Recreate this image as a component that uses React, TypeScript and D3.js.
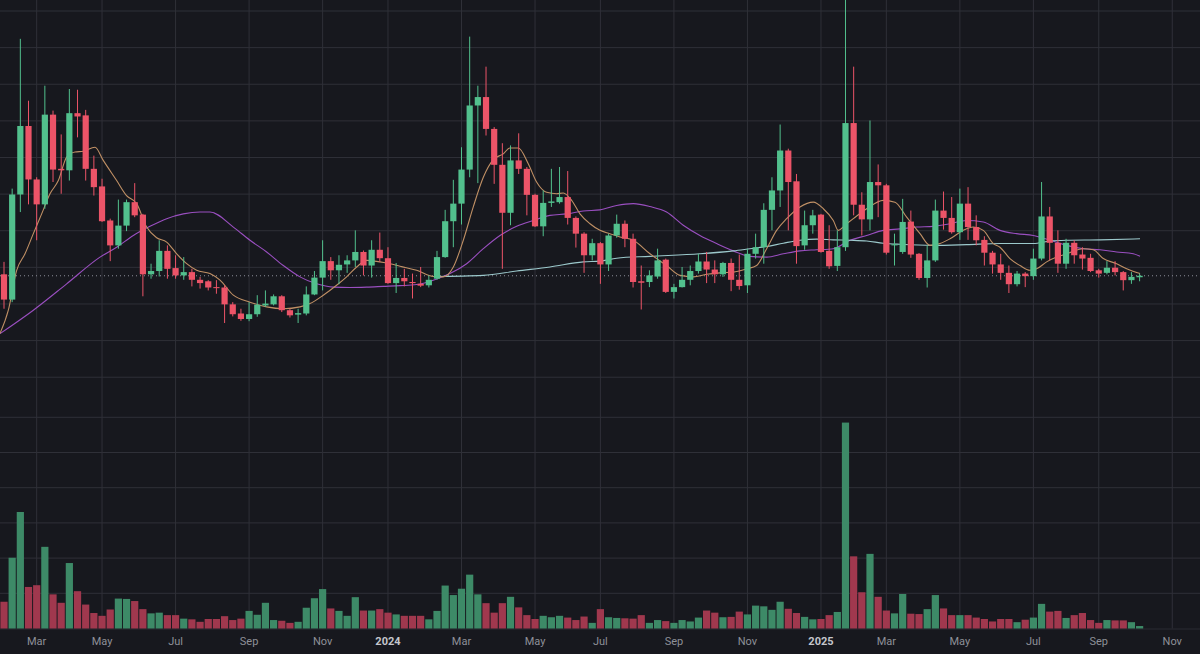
import React from "react";
import * as d3 from "d3";

const START_WEEK = "2023-02-06";

const opens = [18.1, 11.2, 39.9, 58.6, 44.0, 37.2, 61.7, 46.9, 46.5, 62.1,
  61.5, 46.9, 42.1, 32.8, 26.0, 31.4, 37.8, 34.4, 18.1, 19.0,
  24.5, 19.8, 17.8, 18.7, 16.6, 16.2, 14.6, 14.5, 9.9, 7.4,
  5.9, 7.2, 9.6, 9.9, 12.1, 8.3, 7.1, 7.4, 12.6, 17.2,
  21.7, 19.2, 20.8, 21.9, 24.2, 20.5, 24.8, 22.5, 15.7, 17.1,
  16.0, 15.5, 15.1, 16.9, 22.8, 32.6, 37.4, 46.7, 64.2, 66.5,
  57.8, 48.0, 34.9, 49.2, 46.9, 39.8, 31.2, 37.6, 37.8, 39.2,
  33.5, 29.2, 23.3, 26.6, 20.8, 28.7, 31.9, 27.8, 16.2, 16.0,
  17.5, 22.1, 13.3, 14.6, 16.6, 19.0, 21.6, 19.4, 18.1, 21.2,
  16.6, 15.1, 23.7, 25.5, 35.7, 41.0, 51.9, 43.5, 26.0, 31.5,
  34.4, 24.5, 20.4, 25.5, 59.4, 37.1, 33.1, 43.3, 42.4, 26.0,
  24.2, 32.5, 23.7, 17.1, 21.9, 35.5, 33.5, 29.6, 37.4, 31.0,
  27.5, 24.0, 20.8, 18.5, 15.4, 18.3, 17.6, 22.4, 33.9, 26.7,
  21.0, 26.7, 23.5, 22.6, 19.2, 18.5, 19.9, 18.7, 16.5, 17.3];

const highs = [21.5, 41.5, 82.4, 65.5, 44.6, 69.6, 62.8, 56.3, 68.7, 68.5,
  63.0, 50.5, 44.2, 33.3, 38.5, 38.5, 43.0, 34.6, 21.0, 27.4,
  26.0, 23.3, 22.8, 19.6, 17.4, 16.5, 16.5, 15.1, 10.5, 8.7,
  10.5, 12.4, 13.7, 12.6, 12.4, 8.7, 8.7, 14.8, 19.0, 27.4,
  22.8, 23.3, 23.3, 30.1, 24.6, 27.4, 29.5, 25.5, 21.2, 19.6,
  18.3, 20.1, 17.8, 24.5, 35.7, 43.9, 52.8, 83.0, 69.6, 74.8,
  58.3, 53.9, 53.3, 56.6, 47.4, 40.1, 41.0, 46.9, 47.4, 46.3,
  33.9, 29.6, 27.8, 26.9, 29.2, 34.4, 32.8, 29.2, 20.5, 19.2,
  25.1, 22.4, 15.5, 20.1, 20.5, 23.7, 24.2, 21.9, 21.5, 22.4,
  23.5, 25.1, 29.2, 37.5, 44.6, 59.0, 52.4, 45.5, 35.5, 35.7,
  34.6, 31.5, 30.1, 93.7, 74.8, 40.5, 60.1, 48.1, 42.8, 29.2,
  38.7, 35.5, 23.9, 26.0, 38.5, 40.7, 39.2, 41.5, 41.9, 34.2,
  28.5, 24.5, 23.7, 20.5, 19.0, 18.7, 25.1, 43.3, 36.5, 30.1,
  27.8, 27.4, 25.5, 23.7, 19.6, 21.7, 21.7, 19.0, 18.7, 18.3];

const lows = [8.7, 10.5, 35.1, 37.2, 27.4, 36.0, 43.3, 40.1, 43.7, 55.5,
  43.7, 39.6, 32.4, 21.7, 25.1, 29.9, 33.7, 12.1, 16.9, 17.5,
  16.9, 16.9, 16.6, 14.8, 14.2, 13.7, 12.8, 4.8, 6.6, 5.4,
  5.3, 6.5, 9.2, 9.6, 7.8, 6.3, 4.8, 6.9, 12.4, 13.7,
  16.6, 15.4, 18.5, 20.1, 17.8, 17.2, 21.5, 15.5, 13.0, 14.8,
  11.5, 14.6, 14.5, 16.6, 22.6, 25.5, 31.7, 44.6, 43.0, 56.0,
  42.8, 19.6, 31.5, 45.5, 34.2, 31.0, 28.5, 36.5, 37.4, 31.7,
  25.4, 18.5, 21.9, 15.5, 19.0, 28.1, 25.5, 14.5, 8.5, 14.6,
  16.9, 13.0, 11.5, 14.5, 15.1, 18.3, 15.7, 15.7, 17.4, 13.5,
  13.9, 13.0, 22.4, 21.0, 30.1, 36.5, 30.1, 21.0, 24.8, 29.2,
  24.0, 19.6, 19.0, 24.5, 34.2, 28.7, 30.1, 33.7, 23.5, 20.5,
  23.7, 22.6, 16.6, 14.5, 21.5, 30.3, 29.2, 27.5, 27.5, 26.0,
  20.5, 18.3, 16.6, 13.0, 14.8, 14.6, 16.6, 21.9, 21.9, 18.5,
  19.6, 21.0, 19.4, 18.7, 17.2, 18.1, 17.8, 13.7, 15.5, 16.2];

const closes = [11.2, 39.9, 58.6, 44.0, 37.2, 61.7, 46.7, 46.5, 62.1, 61.2,
  46.9, 41.9, 32.6, 26.0, 31.4, 37.8, 34.2, 18.1, 19.0, 24.5,
  19.6, 17.8, 18.7, 16.6, 15.7, 14.5, 14.4, 9.9, 7.2, 5.9,
  7.2, 9.8, 10.1, 12.1, 8.3, 6.9, 7.5, 12.6, 17.2, 21.7,
  19.2, 20.7, 21.9, 24.2, 20.5, 24.8, 22.5, 15.7, 17.1, 16.2,
  15.7, 15.0, 16.6, 22.8, 32.6, 37.4, 46.7, 64.2, 66.5, 57.8,
  48.0, 34.9, 49.2, 46.9, 39.8, 31.2, 37.6, 38.0, 39.2, 33.5,
  29.2, 23.3, 26.6, 20.8, 28.7, 31.9, 27.8, 16.0, 15.8, 17.8,
  21.9, 13.3, 14.6, 16.6, 19.0, 21.6, 19.4, 18.1, 21.2, 16.6,
  14.9, 23.7, 25.5, 35.7, 41.0, 51.9, 43.3, 25.8, 31.5, 34.2,
  24.2, 20.3, 25.5, 59.4, 37.1, 33.1, 43.3, 42.4, 24.0, 26.3,
  32.4, 23.5, 17.1, 21.9, 35.5, 33.5, 29.6, 37.4, 31.0, 27.4,
  24.0, 20.8, 18.5, 15.4, 18.3, 17.6, 22.4, 33.9, 26.7, 21.0,
  26.7, 23.3, 22.4, 19.0, 18.3, 19.9, 18.7, 16.5, 17.4, 17.7];

const volumes = [7.6, 20.1, 33.1, 11.8, 12.3, 23.2, 9.7, 7.3, 18.6, 10.6,
  6.8, 4.4, 3.6, 5.4, 8.5, 8.4, 7.8, 5.5, 4.3, 4.5,
  3.8, 3.8, 2.8, 2.6, 1.9, 2.7, 2.7, 3.5, 2.4, 2.8,
  5.0, 3.9, 7.3, 2.4, 2.2, 1.6, 1.9, 5.9, 8.6, 11.2,
  5.7, 5.0, 3.6, 8.9, 5.1, 5.1, 5.5, 4.5, 4.0, 3.6,
  3.6, 3.6, 2.6, 5.0, 12.2, 9.5, 11.3, 15.3, 9.7, 7.2,
  4.5, 7.2, 9.0, 6.0, 3.8, 2.7, 3.6, 3.2, 3.6, 3.1,
  2.4, 3.4, 1.6, 5.5, 3.2, 3.0, 2.9, 2.8, 3.8, 1.6,
  2.4, 2.1, 1.6, 2.4, 2.0, 3.1, 5.1, 4.5, 3.2, 3.3,
  4.8, 4.0, 6.5, 6.3, 5.3, 7.6, 5.6, 4.4, 3.3, 2.6,
  2.7, 3.8, 4.7, 58.5, 20.5, 10.3, 21.2, 9.0, 5.1, 4.3,
  9.8, 4.2, 4.1, 5.5, 9.5, 5.7, 3.8, 3.8, 3.8, 3.1,
  2.7, 2.0, 2.7, 2.7, 1.8, 2.5, 3.1, 7.0, 4.8, 5.0,
  3.0, 3.8, 4.4, 2.4, 1.6, 2.4, 2.3, 2.3, 1.8, 0.7];

// moving-average lines: [week index, value]
const maFast: [number, number][] = [[-0.5, 1.9], [0.53, 8.3], [1.55, 19.2], [2.57, 23.7], [3.59, 29.2], [4.61, 34.6], [5.63, 40.1], [6.65, 43.7], [7.67, 50.1], [8.69, 51.5], [9.71, 51.7], [11.14, 52.8], [12.15, 49.2], [13.79, 43.7], [15.0, 39.6], [16.24, 37.4], [17.46, 31.0], [18.69, 28.1], [19.91, 26.9], [21.14, 23.7], [22.36, 21.0], [23.58, 19.2],
  [25.21, 18.3], [26.44, 16.5], [28.07, 12.4], [30.11, 10.5], [32.15, 9.2], [34.19, 8.7], [36.23, 9.2], [37.45, 10.1], [39.08, 12.4], [40.71, 15.1], [41.94, 17.4], [43.17, 20.1], [44.39, 21.9], [46.02, 21.5], [47.25, 21.0], [48.47, 20.3],
  [50.51, 19.2], [52.55, 17.5], [53.77, 17.4], [55.0, 20.1], [56.22, 27.4], [57.44, 36.5], [58.67, 44.6], [59.89, 49.4], [61.11, 51.0], [61.93, 52.6], [62.95, 52.6], [64.17, 48.3], [65.19, 43.3], [66.42, 40.5], [67.64, 40.1], [68.46, 40.3], [69.48, 38.3], [70.5, 34.6], [71.73, 31.9], [72.95, 30.1],
  [74.17, 29.2], [75.4, 28.3], [77.03, 27.4], [79.07, 23.7], [81.1, 20.5], [82.74, 17.8], [84.37, 17.4], [86.0, 18.1], [87.64, 18.5], [89.27, 18.7], [90.9, 19.6], [92.12, 20.5], [93.35, 25.1], [94.57, 30.1], [95.8, 33.3], [97.43, 36.5],
  [99.06, 37.8], [100.29, 36.0], [101.51, 32.8], [102.12, 30.1], [103.14, 31.9], [103.96, 33.3], [105.59, 36.0], [107.63, 38.3], [109.06, 37.8], [110.49, 33.7], [112.12, 29.2], [113.34, 26.0], [114.57, 26.5], [115.79, 27.8], [117.42, 30.1], [118.64, 31.0], [119.87, 30.1], [121.09, 26.5], [121.91, 25.5],
  [123.13, 22.4], [124.36, 20.5], [125.58, 19.2], [126.4, 19.6], [127.62, 21.5], [128.85, 22.8], [130.07, 23.7], [132.11, 25.1], [133.33, 24.8], [134.56, 22.4], [136.19, 21.0], [137.42, 19.6], [139.05, 18.3]];

const maMid: [number, number][] = [[-0.49, 1.9], [3.59, 8.3], [7.67, 15.5], [11.75, 22.8], [13.79, 25.5], [15.83, 28.7], [17.87, 31.2], [19.91, 33.3], [21.95, 34.6], [23.99, 35.1], [25.21, 35.1], [28.07, 31.0], [30.11, 27.4], [32.15, 24.2], [34.19, 20.5], [36.23, 17.4], [38.27, 15.5], [40.31, 14.6], [42.35, 14.5], [44.39, 14.6], [46.43, 14.8], [48.47, 15.0], [50.51, 15.3], [52.55, 16.5], [54.59, 18.3], [56.63, 21.0], [58.67, 25.1], [60.71, 28.7], [62.75, 31.2], [64.79, 32.8], [66.83, 34.2], [68.87, 34.6], [70.91, 35.4], [72.95, 35.7], [74.99, 36.9], [77.03, 37.4], [79.07, 36.6], [81.1, 35.1], [83.14, 31.5], [85.18, 28.7], [87.22, 26.5], [89.27, 24.5], [91.31, 23.0], [93.35, 22.8], [95.39, 23.7], [97.43, 24.5], [99.47, 24.8], [101.51, 25.1], [103.55, 27.4], [105.59, 28.7], [107.63, 30.1], [109.67, 30.5], [111.71, 31.0], [113.75, 31.2], [115.79, 31.9], [117.83, 32.8], [119.87, 32.4], [121.91, 30.1], [123.95, 29.2], [125.99, 28.7], [128.03, 27.4], [130.07, 26.0], [132.11, 25.1], [134.15, 24.8], [136.19, 24.2], [138.23, 23.7], [139.05, 23.0]];

const maSlow: [number, number][] = [[52.55, 17.5], [58.67, 17.8], [62.75, 19.0], [66.83, 20.1], [70.91, 21.5], [72.95, 21.7], [74.99, 22.5], [79.07, 23.0], [85.18, 23.7], [89.27, 24.5], [91.31, 25.1], [93.35, 25.7], [95.39, 26.6], [97.43, 27.4], [99.47, 27.7], [101.51, 27.5], [103.55, 27.4], [105.59, 27.2], [107.63, 26.6], [109.67, 26.3], [113.75, 26.0], [117.83, 26.2], [121.91, 26.5], [125.99, 26.5], [128.03, 27.2], [130.07, 27.4], [134.15, 27.5], [139.05, 27.8]];

const tickMonths = ["2023-03", "2023-05", "2023-07", "2023-09", "2023-11", "2024-01", "2024-03", "2024-05", "2024-07", "2024-09", "2024-11", "2025-01", "2025-03", "2025-05", "2025-07", "2025-09", "2025-11"];
const tickLabels = ["Mar", "May", "Jul", "Sep", "Nov", "2024", "Mar", "May", "Jul", "Sep", "Nov", "2025", "Mar", "May", "Jul", "Sep", "Nov"];

const priceTicks = [-10, 0, 10, 20, 30, 40, 50, 60, 70, 80, 90];
const volumeTicks = [10, 20, 30, 40, 50, 60];

const W = 1200;
const H = 654;
const BG = "#17181e";
const GRID = "#2f3038";
const UP = "#52c08d";
const DOWN = "#ec5468";
const UP_VOL = "#3d8a67";
const DOWN_VOL = "#a0384e";

export default function App() {
  const n = closes.length;
  const x = d3.scaleLinear().domain([0, n - 1]).range([4, 1139.6]);
  const y = d3.scaleLinear().domain([0, 90]).range([340.6, 11]);
  const yv = d3.scaleLinear().domain([0, 60]).range([628.5, 417.3]);

  const start = new Date(START_WEEK + "T00:00:00Z");
  const ticks = tickMonths.map((m, k) => {
    const first = new Date(m + "-01T00:00:00Z");
    const monday = d3.utcMonday.ceil(first);
    const idx = d3.utcMonday.count(start, monday);
    return { idx, label: tickLabels[k], year: /^\d{4}$/.test(tickLabels[k]) };
  });

  const bodyW = 6.2;
  const volW = 7.2;

  const line = d3
    .line<[number, number]>()
    .x((d) => x(d[0]))
    .y((d) => y(d[1]))
    .curve(d3.curveMonotoneX);

  const last = closes[n - 1];

  return (
    <div style={{ position: "fixed", left: 0, top: 0 }}>
      <svg width={W} height={H} style={{ display: "block" }}>
        <rect x={0} y={0} width={W} height={H} fill={BG} />
        {/* grid */}
        {priceTicks.map((t) => (
          <line key={"p" + t} x1={0} x2={W} y1={y(t)} y2={y(t)} stroke={GRID} strokeWidth={1} />
        ))}
        {volumeTicks.map((t) => (
          <line key={"v" + t} x1={0} x2={W} y1={yv(t)} y2={yv(t)} stroke={GRID} strokeWidth={1} />
        ))}
        {ticks.map((t) => (
          <line key={"g" + t.idx} x1={x(t.idx)} x2={x(t.idx)} y1={0} y2={yv(0)} stroke={GRID} strokeWidth={1} />
        ))}
        <line x1={0} x2={W} y1={yv(0) + 0.5} y2={yv(0) + 0.5} stroke="#2a2b32" strokeWidth={1} />

        {/* volume */}
        {volumes.map((v, i) => {
          const up = closes[i] >= opens[i];
          return (
            <rect
              key={"vol" + i}
              x={x(i) - volW / 2}
              y={yv(v)}
              width={volW}
              height={yv(0) - yv(v)}
              fill={up ? UP_VOL : DOWN_VOL}
            />
          );
        })}

        {/* current price dotted line */}
        <line x1={0} x2={W} y1={y(last)} y2={y(last)} stroke="#8d9099" strokeWidth={1} strokeDasharray="1 3" />

        {/* moving averages */}
        <path d={line(maMid) || ""} fill="none" stroke="#9a4fc0" strokeWidth={1.1} />
        <path d={line(maSlow) || ""} fill="none" stroke="#9cc9cc" strokeWidth={1.1} />
        <path d={line(maFast) || ""} fill="none" stroke="#c09065" strokeWidth={1.1} />

        {/* candles */}
        {closes.map((c, i) => {
          const o = opens[i];
          const up = c >= o;
          const col = up ? UP : DOWN;
          const top = y(Math.max(o, c));
          const bot = y(Math.min(o, c));
          return (
            <g key={"c" + i}>
              <line x1={x(i)} x2={x(i)} y1={y(highs[i])} y2={y(lows[i])} stroke={col} strokeWidth={1} />
              <rect x={x(i) - bodyW / 2} y={top} width={bodyW} height={Math.max(1, bot - top)} fill={col} />
            </g>
          );
        })}

        {/* axis labels */}
        {ticks.map((t) => (
          <text
            key={"t" + t.idx}
            x={x(t.idx)}
            y={645}
            textAnchor="middle"
            fontFamily="Roboto, 'Noto Sans', sans-serif"
            fontSize={11}
            fontWeight={t.year ? 700 : 400}
            fill={t.year ? "#c4c6cc" : "#8e9098"}
          >
            {t.label}
          </text>
        ))}
      </svg>
    </div>
  );
}
